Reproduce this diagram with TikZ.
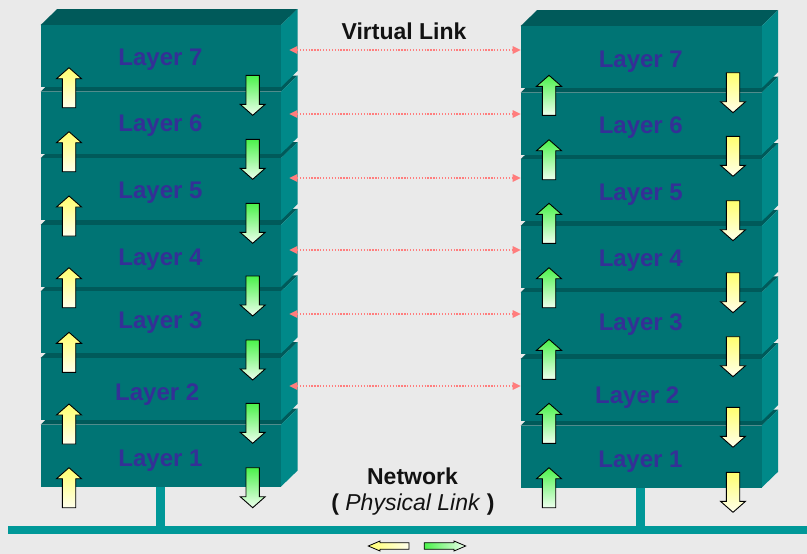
\documentclass[tikz,border=0pt]{standalone}
\usepackage{fontspec}
\setmainfont{Liberation Sans}
\usetikzlibrary{arrows.meta}

\definecolor{bg}{RGB}{234,234,234}
\definecolor{frontface}{RGB}{0,116,116}
\definecolor{topface}{RGB}{0,90,90}
\definecolor{sideface}{RGB}{0,137,137}
\definecolor{wire}{RGB}{0,152,152}
\definecolor{labelblue}{RGB}{52,48,150}
\definecolor{linkred}{RGB}{255,125,125}
\definecolor{yel}{RGB}{255,255,110}
\definecolor{yelpale}{RGB}{255,255,236}
\definecolor{grn}{RGB}{75,242,75}
\definecolor{grnpale}{RGB}{238,255,238}

% one 3-D layer slab: left x, front-top y, front width
\newcommand\layerbox[3]{%
  \fill[topface] (#1,#2) -- ++(16.5,-16) -- ++(#3,0) -- ++(-16.5,16) -- cycle;
  \fill[sideface] (#1+#3,#2) -- ++(16.5,-16) -- ++(0,62) -- ++(-16.5,16) -- cycle;
  \fill[frontface] (#1,#2) rectangle ++(#3,62);
}
% block arrows: centre x, tip/top y, fill colours
\newcommand\uparr[4]{%
  \draw[blockarrow, top color=#3, bottom color=#4]
    (#1,#2) -- ++(12.5,11) -- ++(-5.8,0) -- ++(0,29) -- ++(-13.4,0)
    -- ++(0,-29) -- ++(-5.8,0) -- cycle;
}
\newcommand\downarr[4]{%
  \draw[blockarrow, top color=#3, bottom color=#4]
    (#1-6.7,#2) -- ++(13.4,0) -- ++(0,29) -- ++(5.8,0) -- ++(-12.5,11)
    -- ++(-12.5,-11) -- ++(5.8,0) -- cycle;
}

\tikzset{
  blockarrow/.style={draw=black, line width=0.9pt, line join=miter},
  layertxt/.style={text=labelblue, font=\fontsize{24}{24}\selectfont\bfseries, anchor=base, inner sep=0pt},
  captxt/.style={text=black!93, font=\fontsize{23}{23}\selectfont, anchor=base, inner sep=0pt},
  vlink/.style={draw=linkred, line width=1.3pt, dash pattern=on 1.3pt off 1.6pt,
    {Triangle[length=8pt,width=7.5pt]}-{Triangle[length=8pt,width=7.5pt]}},
}

\begin{document}
\begin{tikzpicture}[x=1pt,y=-1pt]
  \useasboundingbox (0,0) rectangle (807,554);
  \fill[bg] (0,0) rectangle (807,554);

  % network bus and the two drops
  \fill[wire] (8,526) rectangle (807,534);
  \fill[wire] (156,480) rectangle (165,527);
  \fill[wire] (636,480) rectangle (645,527);

  % the two protocol stacks, drawn bottom slab first
  \foreach \k in {1,...,7} {
    \pgfmathsetmacro\ytl{25+(7-\k)*66.6}
    \pgfmathsetmacro\ytr{26+(7-\k)*66.6}
    \layerbox{40.7}{\ytl}{240.3}
    \layerbox{520.7}{\ytr}{241}
  }

  % layer names
  \node[layertxt] (l7) at (160.5,65.7) {Layer 7};
  \node[layertxt] (l6) at (160.5,131) {Layer 6};
  \node[layertxt] (l5) at (160.5,198.3) {Layer 5};
  \node[layertxt] (l4) at (160.5,265) {Layer 4};
  \node[layertxt] (l3) at (160.5,328.3) {Layer 3};
  \node[layertxt] (l2) at (157.2,400.7) {Layer 2};
  \node[layertxt] (l1) at (160.5,466) {Layer 1};
  \node[layertxt] (r7) at (640.8,67.7) {Layer 7};
  \node[layertxt] (r6) at (640.8,133.3) {Layer 6};
  \node[layertxt] (r5) at (640.8,200.7) {Layer 5};
  \node[layertxt] (r4) at (640.8,266.7) {Layer 4};
  \node[layertxt] (r3) at (640.8,330) {Layer 3};
  \node[layertxt] (r2) at (637.2,403.3) {Layer 2};
  \node[layertxt] (r1) at (640.5,467.3) {Layer 1};

  % up / down flow arrows through the layers
  \foreach \t in {67.7,131.7,196,267.7,332.3,404,467.7}
    {\uparr{69}{\t}{yel}{yelpale}}
  \foreach \t in {75.3,139.3,203.3,276,340,403.3,467.7}
    {\downarr{252.7}{\t}{grn}{grnpale}}
  \foreach \t in {75.3,139.7,203.3,267.7,339.3,403.3,467.7}
    {\uparr{549}{\t}{grn}{grnpale}}
  \foreach \t in {72.7,136.3,200.7,272.7,336.7,407.3,472.3}
    {\downarr{733}{\t}{yel}{yelpale}}

  % peer-to-peer virtual links
  \foreach \i/\y in {7/50,6/114,5/178,4/250,3/314,2/386} {
    \coordinate (va\i) at (289.3,\y);
    \coordinate (vb\i) at (520.7,\y);
    \draw[vlink] (va\i) -- (vb\i);
  }

  % captions
  \node[captxt, font=\fontsize{23}{23}\selectfont\bfseries] (vl) at (404,39) {Virtual Link};
  \node[captxt, font=\fontsize{23}{23}\selectfont\bfseries] (net) at (412.5,484.3) {Network};
  \node[captxt] (phys) at (413,510) {{\bfseries (} \textit{Physical Link} {\bfseries )}};

  % bidirectional traffic on the bus
  \draw[blockarrow, line width=0.8pt, left color=yel, right color=yelpale]
    (368.3,546) -- ++(11.7,-5) -- ++(0,1.7) -- ++(29,0) -- ++(0,6.6)
    -- ++(-29,0) -- ++(0,1.7) -- cycle;
  \draw[blockarrow, line width=0.8pt, left color=grn, right color=grnpale]
    (424.3,542.7) -- ++(29.7,0) -- ++(0,-1.7) -- ++(11.7,5) -- ++(-11.7,5)
    -- ++(0,-1.7) -- ++(-29.7,0) -- cycle;
\end{tikzpicture}
\end{document}
